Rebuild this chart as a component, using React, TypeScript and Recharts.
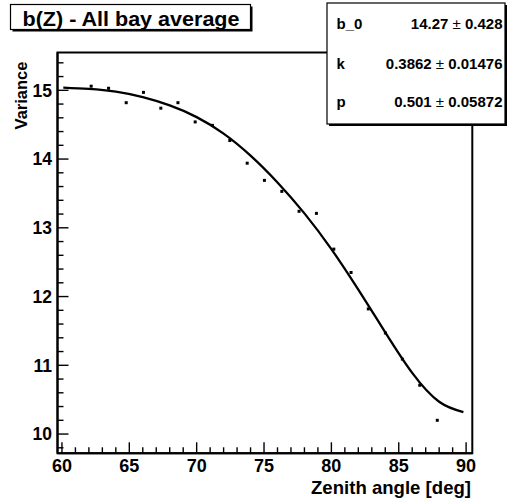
import React from 'react';
import {
  ComposedChart,
  Scatter,
  Line,
  XAxis,
  YAxis,
  ReferenceArea
} from 'recharts';

// measured points (zenith angle in deg, variance)
const angles = [
  62.17, 63.46, 64.77, 66.05, 67.34, 68.61, 69.89, 71.17, 72.46, 73.75, 75.03,
  76.32, 77.6, 78.89, 80.18, 81.46, 82.74, 84.01, 85.27, 86.56, 87.86
];
const variances = [
  15.06, 15.03, 14.82, 14.97, 14.74, 14.82, 14.54, 14.49, 14.27, 13.94, 13.69,
  13.53, 13.24, 13.21, 12.69, 12.35, 11.82, 11.47, 11.09, 10.71, 10.2
];

// fitted curve
const fitAngles = [60.1, 62, 64, 66, 68, 70, 72, 74, 76, 78, 80, 82, 84, 86, 88, 89.8];
const fitValues = [
  15.04, 15.02, 14.98, 14.9, 14.78, 14.61, 14.37, 14.05, 13.66, 13.21, 12.69,
  12.1, 11.48, 10.89, 10.47, 10.32
];

const xTicks = [
  60, 61, 62, 63, 64, 65, 66, 67, 68, 69, 70, 71, 72, 73, 74, 75, 76, 77, 78,
  79, 80, 81, 82, 83, 84, 85, 86, 87, 88, 89, 90
];
const yTicks = [
  9.8, 10, 10.2, 10.4, 10.6, 10.8, 11, 11.2, 11.4, 11.6, 11.8, 12, 12.2, 12.4,
  12.6, 12.8, 13, 13.2, 13.4, 13.6, 13.8, 14, 14.2, 14.4, 14.6, 14.8, 15, 15.2,
  15.4
];

const title = 'b(Z) - All bay average';
const xTitle = 'Zenith angle [deg]';
const yTitle = 'Variance';
const statNames = ['b_0', 'k', 'p'];
const statValues = ['14.27', '0.3862', '0.501'];
const statErrors = ['0.428', '0.01476', '0.05872'];

const X_MIN = 59.67;
const X_MAX = 90.46;
const Y_MIN = 9.72;
const Y_MAX = 15.55;

const FONT = '"Liberation Sans", Arial, Helvetica, sans-serif';

const points = angles.map((a, i) => ({ x: a, y: variances[i] }));
const fit = fitAngles.map((a, i) => ({ x: a, y: fitValues[i] }));

function XTick(props: any) {
  const { x, y, payload } = props;
  const major = payload.value % 5 === 0;
  return (
    <g>
      <line x1={x} x2={x} y1={y} y2={y - (major ? 11 : 6)} stroke="#000" strokeWidth={1.4} />
      {major && (
        <text x={x} y={y + 19} textAnchor="middle" fontFamily={FONT} fontWeight="bold" fontSize={18} fill="#000">
          {payload.value}
        </text>
      )}
    </g>
  );
}

function YTick(props: any) {
  const { x, y, payload } = props;
  const v = payload.value;
  const major = Math.abs(v - Math.round(v)) < 1e-6;
  return (
    <g>
      <line x1={x} x2={x + (major ? 11 : 6)} y1={y} y2={y} stroke="#000" strokeWidth={1.4} />
      {major && (
        <text x={x - 5.5} y={y + 6.3} textAnchor="end" fontFamily={FONT} fontWeight="bold" fontSize={17.5} fill="#000">
          {Math.round(v)}
        </text>
      )}
    </g>
  );
}

const Dot = (props: any) => (
  <rect x={props.cx - 1.5} y={props.cy - 1.5} width={3} height={3} fill="#000" />
);

export default function App() {
  return (
    <div style={{ position: 'relative', width: 507, height: 500, background: '#fff' }}>
      <style>{'body{margin:0}'}</style>
      <ComposedChart
        width={507}
        height={500}
        margin={{ top: 52.5, right: 34.7, bottom: 0, left: 0 }}
      >
        <XAxis
          type="number"
          dataKey="x"
          domain={[X_MIN, X_MAX]}
          allowDataOverflow
          ticks={xTicks}
          interval={0}
          tick={(p: any) => <XTick {...p} />}
          tickLine={false}
          tickSize={0}
          tickMargin={0}
          height={46.7}
          axisLine={{ stroke: '#000', strokeWidth: 2 }}
        />
        <YAxis
          type="number"
          dataKey="y"
          domain={[Y_MIN, Y_MAX]}
          allowDataOverflow
          ticks={yTicks}
          interval={0}
          tick={(p: any) => <YTick {...p} />}
          tickLine={false}
          tickSize={0}
          tickMargin={0}
          width={57.5}
          axisLine={{ stroke: '#000', strokeWidth: 2 }}
        />
        <ReferenceArea
          x1={X_MIN}
          x2={X_MAX}
          y1={Y_MIN}
          y2={Y_MAX}
          fill="none"
          fillOpacity={0}
          stroke="#000"
          strokeWidth={2}
          ifOverflow="extendDomain"
        />
        <Line
          data={fit}
          dataKey="y"
          type="natural"
          stroke="#000"
          strokeWidth={2.3}
          dot={false}
          activeDot={false}
          isAnimationActive={false}
        />
        <Scatter data={points} dataKey="y" shape={Dot} isAnimationActive={false} />
      </ComposedChart>

      <svg
        width={507}
        height={500}
        style={{ position: 'absolute', left: 0, top: 0, pointerEvents: 'none' }}
      >
        {/* title box */}
        <rect x={12.5} y={6.5} width={240} height={25} fill="#000" />
        <rect x={10.5} y={4.5} width={240} height={25} fill="#fff" stroke="#000" strokeWidth={1.2} />
        <text
          x={22.5}
          y={25.5}
          textLength={217}
          lengthAdjust="spacingAndGlyphs"
          fontFamily={FONT}
          fontWeight="bold"
          fontSize={20.5}
          fill="#000"
        >
          {title}
        </text>

        {/* stats box */}
        <rect x={329} y={5} width={178} height={121} fill="#000" />
        <rect x={327} y={3} width={178} height={121} fill="#fff" stroke="#000" strokeWidth={1.2} />
        {statNames.map((n, i) => {
          const y = [28.5, 69, 106.5][i];
          return (
            <g key={n} fontFamily={FONT} fontSize={15} fill="#000">
              <text x={336.5} y={y} fontWeight="bold">{n}</text>
              <text x={502.5} y={y} textAnchor="end" fontWeight="bold">
                {statValues[i]}
                <tspan fontWeight="normal"> ± </tspan>
                {statErrors[i]}
              </text>
            </g>
          );
        })}

        {/* axis titles */}
        <text
          x={311}
          y={494}
          textLength={160}
          lengthAdjust="spacingAndGlyphs"
          fontFamily={FONT}
          fontWeight="bold"
          fontSize={19}
          fill="#000"
        >
          {xTitle}
        </text>
        <text
          x={27}
          y={95.5}
          transform="rotate(-90 27 95.5)"
          textAnchor="middle"
          fontFamily={FONT}
          fontWeight="bold"
          fontSize={16.5}
          fill="#000"
        >
          {yTitle}
        </text>
      </svg>
    </div>
  );
}
